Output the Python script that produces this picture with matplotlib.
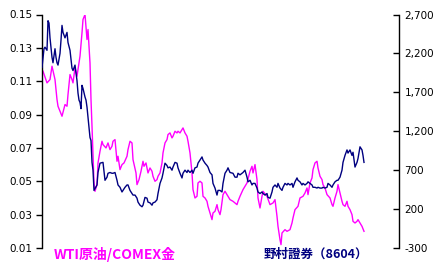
import matplotlib
matplotlib.use('Agg')
import matplotlib.pyplot as plt
from matplotlib.ticker import FuncFormatter

# WTI原油/COMEX金 (左軸)
wti_t = [1, 5, 8, 10, 13, 15, 16, 20, 23, 25, 26, 28, 30, 31, 33, 35, 38, 40, 41, 43,
         45, 46, 48, 49, 50, 51, 52, 53, 55, 56, 58, 60, 61, 64, 66, 68, 70, 71, 73, 75,
         76, 78, 80, 82, 85, 86, 88, 90, 91, 94, 95, 97, 99, 101, 102, 104, 106, 108, 110, 111,
         113, 115, 116, 118, 120, 121, 123, 125, 126, 128, 130, 131, 133, 135, 136, 138, 140, 141, 143, 145,
         146, 148, 150, 151, 153, 155, 156, 158, 160, 161, 163, 165, 166, 168, 170, 171, 173, 175, 176, 178,
         179, 181, 183, 185, 188, 191, 195, 196, 198, 201, 205, 208, 210, 211, 213, 215, 216, 218, 220, 221,
         225, 228, 231, 233, 235, 236, 238, 239, 240, 243, 245, 248, 250, 251, 253, 256, 258, 261, 263, 265,
         266, 268, 270, 271, 273, 275, 276, 278, 280, 281, 283, 285, 288, 290, 291, 293, 295, 296, 298, 300,
         301, 303, 305, 306, 308, 310, 311, 313, 315, 316, 318, 320, 322]
wti = [0.116, 0.109, 0.111, 0.119, 0.111, 0.099, 0.095, 0.089, 0.096, 0.095, 0.102, 0.114, 0.111, 0.109, 0.118, 0.113, 0.125, 0.139, 0.147, 0.150,
       0.135, 0.141, 0.121, 0.099, 0.083, 0.065, 0.049, 0.044, 0.048, 0.061, 0.068, 0.074, 0.072, 0.070, 0.073, 0.069, 0.071, 0.074, 0.075, 0.062,
       0.065, 0.057, 0.060, 0.061, 0.065, 0.069, 0.074, 0.073, 0.063, 0.055, 0.048, 0.051, 0.056, 0.062, 0.059, 0.061, 0.055, 0.058, 0.056, 0.053,
       0.050, 0.051, 0.053, 0.055, 0.061, 0.067, 0.073, 0.075, 0.078, 0.079, 0.076, 0.077, 0.080, 0.079, 0.080, 0.079, 0.081, 0.082, 0.079, 0.077,
       0.074, 0.067, 0.055, 0.045, 0.040, 0.041, 0.049, 0.050, 0.049, 0.041, 0.040, 0.038, 0.035, 0.031, 0.027, 0.031, 0.032, 0.036, 0.033, 0.030,
       0.033, 0.042, 0.044, 0.042, 0.039, 0.038, 0.036, 0.038, 0.041, 0.045, 0.049, 0.056, 0.059, 0.055, 0.060, 0.051, 0.040, 0.034, 0.041, 0.044,
       0.041, 0.036, 0.037, 0.039, 0.029, 0.023, 0.015, 0.012, 0.019, 0.021, 0.020, 0.021, 0.025, 0.028, 0.033, 0.035, 0.040, 0.041, 0.043, 0.046,
       0.042, 0.049, 0.052, 0.057, 0.061, 0.062, 0.058, 0.053, 0.051, 0.048, 0.046, 0.042, 0.040, 0.036, 0.035, 0.040, 0.044, 0.048, 0.043, 0.038,
       0.036, 0.035, 0.038, 0.035, 0.033, 0.030, 0.026, 0.025, 0.026, 0.027, 0.025, 0.023, 0.020]

# 野村證券(8604) (右軸)
nomura_t = [0, 1, 2, 3, 5, 6, 7, 8, 10, 11, 12, 13, 14, 15, 16, 18, 19, 20, 21, 23,
            25, 26, 28, 30, 31, 33, 35, 36, 37, 38, 39, 40, 41, 43, 44, 45, 46, 47, 48, 49,
            50, 51, 52, 55, 56, 58, 61, 63, 65, 66, 68, 70, 71, 73, 75, 76, 78, 80, 81, 83,
            85, 86, 88, 90, 91, 93, 95, 96, 98, 100, 101, 103, 105, 106, 108, 110, 111, 113, 115, 116,
            118, 120, 121, 123, 125, 126, 128, 130, 131, 133, 135, 136, 138, 140, 141, 143, 145, 146, 148, 150,
            151, 153, 155, 156, 158, 160, 161, 163, 165, 166, 168, 170, 171, 173, 175, 176, 178, 180, 181, 183,
            185, 186, 188, 191, 193, 195, 196, 198, 201, 203, 205, 206, 208, 210, 211, 213, 215, 216, 218, 220,
            221, 223, 225, 226, 228, 230, 231, 233, 235, 236, 238, 240, 241, 243, 245, 246, 248, 250, 251, 253,
            255, 256, 258, 260, 261, 263, 265, 266, 268, 270, 271, 273, 275, 276, 278, 280, 281, 283, 285, 286,
            288, 290, 291, 293, 295, 296, 298, 300, 301, 303, 305, 306, 308, 310, 311, 313, 315, 316, 318, 320,
            321, 322]
nomura = [2020, 2140, 2260, 2280, 2240, 2620, 2590, 2400, 2150, 2080, 2170, 2260, 2150, 2080, 2050, 2200, 2370, 2560, 2470, 2400,
          2470, 2340, 2240, 2010, 1980, 2050, 1850, 1690, 1600, 1570, 1490, 1790, 1750, 1640, 1600, 1510, 1380, 1250, 1120, 1080,
          800, 700, 440, 510, 670, 790, 800, 570, 610, 660, 670, 660, 660, 670, 570, 510, 480, 420, 440, 480,
          510, 510, 440, 400, 380, 380, 340, 290, 250, 230, 250, 350, 340, 290, 280, 250, 280, 290, 320, 400,
          530, 600, 660, 790, 760, 730, 740, 700, 740, 800, 790, 730, 660, 600, 660, 700, 670, 700, 670, 700,
          660, 730, 740, 790, 830, 870, 830, 790, 760, 740, 670, 640, 530, 470, 380, 440, 440, 420, 530, 660,
          700, 730, 670, 660, 610, 610, 660, 640, 670, 700, 610, 550, 570, 510, 530, 530, 470, 420, 400, 420,
          400, 380, 400, 350, 340, 420, 480, 510, 480, 530, 470, 440, 480, 530, 510, 530, 510, 530, 480, 550,
          600, 570, 550, 510, 530, 510, 530, 550, 530, 510, 480, 480, 470, 480, 470, 470, 480, 470, 480, 530,
          510, 480, 510, 550, 570, 570, 610, 700, 800, 890, 960, 920, 960, 890, 930, 740, 800, 850, 1000, 960,
          890, 800]

left_ticks = [0.01, 0.03, 0.05, 0.07, 0.09, 0.11, 0.13, 0.15]
right_ticks = [-300, 200, 700, 1200, 1700, 2200, 2700]

plt.rcParams['font.family'] = ['Noto Sans CJK JP', 'DejaVu Sans']

fig = plt.figure(figsize=(4.39, 2.73), dpi=100)
ax = fig.add_axes([42 / 439, 1 - 248 / 273, (399 - 42) / 439, (248 - 14.5) / 273])
ax2 = ax.twinx()

ax.plot(wti_t, wti, color='#FF00FF', lw=1.0)
ax2.plot(nomura_t, nomura, color='#000080', lw=1.0)

ax.set_xlim(0, 357)
ax.set_ylim(0.01, 0.15)
ax2.set_ylim(-300, 2700)

ax.set_yticks(left_ticks)
ax.yaxis.set_major_formatter(FuncFormatter(lambda v, p: f'{v:.2f}'))
ax2.set_yticks(right_ticks)
ax2.yaxis.set_major_formatter(FuncFormatter(lambda v, p: f'{v:,.0f}'))

for a in (ax, ax2):
    a.set_xticks([])
    for s in ('top', 'bottom'):
        a.spines[s].set_visible(False)
    a.patch.set_visible(False)
ax.spines['right'].set_visible(False)
ax2.spines['left'].set_visible(False)
ax.spines['left'].set_linewidth(1.0)
ax2.spines['right'].set_linewidth(1.0)

ax.tick_params(axis='y', direction='out', length=4, width=1, pad=3, labelsize=7.5)
ax2.tick_params(axis='y', direction='in', length=4, width=1, pad=4, labelsize=7.5)
for lab in ax.get_yticklabels() + ax2.get_yticklabels():
    lab.set_family('DejaVu Sans')

fig.text(54 / 439, 1 - 254 / 273, 'WTI原油/COMEX金', color='#FF00FF', fontsize=10,
         fontweight='bold', va='center', ha='left')
fig.text(368 / 439, 1 - 254 / 273, '野村證券（8604）', color='#000080', fontsize=9,
         fontweight='bold', va='center', ha='right')

fig.savefig('out.png', dpi=100)
